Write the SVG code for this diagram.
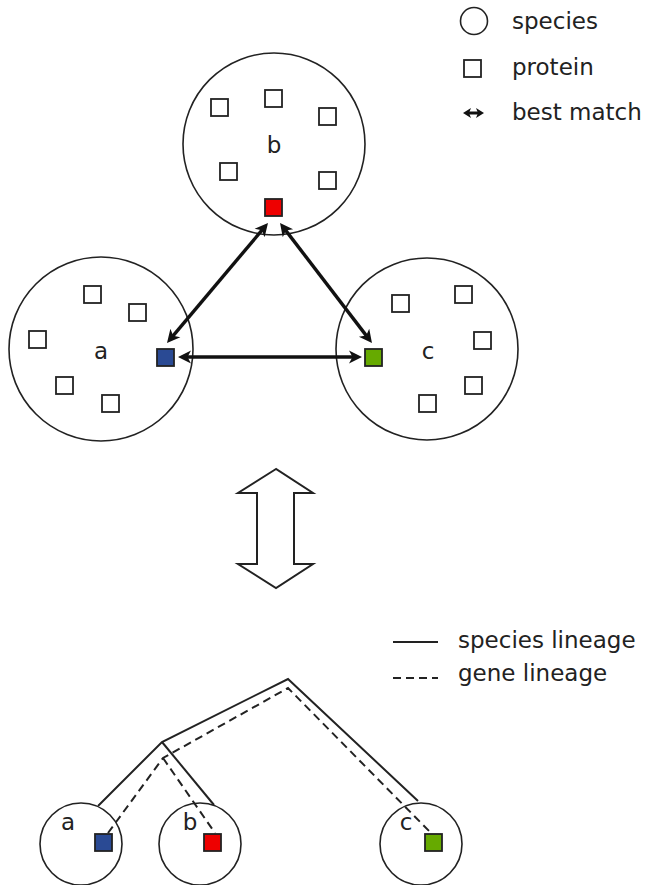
<svg xmlns="http://www.w3.org/2000/svg" width="650" height="885" viewBox="0 0 650 885">
<style>
text{font-family:"DejaVu Sans","Verdana",sans-serif;font-size:23px;fill:#222}
.sp{fill:#fff;stroke:#222;stroke-width:1.6}
.pr{fill:#fff;stroke:#222;stroke-width:1.8}
.bm{stroke:#111;stroke-width:3.4;fill:none;marker-start:url(#ah);marker-end:url(#ah)}
.sl{stroke:#222;stroke-width:2;fill:none}
.gl{stroke:#222;stroke-width:2;fill:none;stroke-dasharray:8,5}
.red{fill:#ee0000}.blue{fill:#2a4a94}.green{fill:#66aa00}
</style>
<defs>
<marker id="ah" markerUnits="userSpaceOnUse" markerWidth="18" markerHeight="16" viewBox="0 -8 18 16" refX="4" refY="0" orient="auto-start-reverse">
<path d="M0,-6.5 L13,0 L0,6.5 L3.5,0 Z" fill="#111"/>
</marker>
</defs>

<g id="legend-top">
<circle class="sp" cx="474" cy="21" r="13.5"/>
<text x="512" y="29">species</text>
<rect class="pr" x="464" y="60" width="17" height="17"/>
<text x="512" y="75">protein</text>
<path d="M467,113 H480" stroke="#111" stroke-width="3"/>
<path d="M463,113 L471,108 L469,113 L471,118 Z M484,113 L476,108 L478,113 L476,118 Z" fill="#111"/>
<text x="512" y="120">best match</text>
</g>

<g id="species-b">
<circle class="sp" cx="274" cy="144" r="91"/>
<rect class="pr" x="211" y="99" width="17" height="17"/>
<rect class="pr" x="265" y="90" width="17" height="17"/>
<rect class="pr" x="319" y="108" width="17" height="17"/>
<rect class="pr" x="220" y="163" width="17" height="17"/>
<rect class="pr" x="319" y="172" width="17" height="17"/>
<text x="274" y="153" text-anchor="middle">b</text>
<rect class="pr red" x="265" y="199" width="17" height="17"/>
</g>

<g id="species-a">
<circle class="sp" cx="101" cy="349" r="92"/>
<rect class="pr" x="84" y="286" width="17" height="17"/>
<rect class="pr" x="129" y="304" width="17" height="17"/>
<rect class="pr" x="29" y="331" width="17" height="17"/>
<rect class="pr" x="56" y="377" width="17" height="17"/>
<rect class="pr" x="102" y="395" width="17" height="17"/>
<text x="101" y="359" text-anchor="middle">a</text>
<rect class="pr blue" x="157" y="349" width="17" height="17"/>
</g>

<g id="species-c">
<circle class="sp" cx="427" cy="349" r="91"/>
<rect class="pr" x="392" y="295" width="17" height="17"/>
<rect class="pr" x="455" y="286" width="17" height="17"/>
<rect class="pr" x="474" y="332" width="17" height="17"/>
<rect class="pr" x="465" y="377" width="17" height="17"/>
<rect class="pr" x="419" y="395" width="17" height="17"/>
<text x="428" y="359" text-anchor="middle">c</text>
<rect class="pr green" x="365" y="349" width="17" height="17"/>
</g>

<g id="connectors">
<path class="bm" d="M262.2,229.9 L172.8,336.1"/>
<path class="bm" d="M285.5,230.1 L366.5,335.9"/>
<path class="bm" d="M187,357 L353,357"/>
</g>

<g id="equivalence">
<path d="M276,469 L238,493 L257,493 L257,564 L238,564 L276,588 L313,564 L294,564 L294,493 L313,493 Z" fill="#fff" stroke="#222" stroke-width="2"/>
</g>

<g id="legend-bottom">
<path class="sl" d="M393,642 H438"/>
<text x="458" y="648">species lineage</text>
<path class="gl" d="M393,678 H438"/>
<text x="458" y="681">gene lineage</text>
</g>

<g id="tree-connectors">
<path class="sl" d="M98,806 L162,742 L288,679 L418,801"/>
<path class="sl" d="M162,742 L214,805"/>
<path class="gl" d="M108,833 L163,758 L288,688 L432,834"/>
<path class="gl" d="M163,758 L215,833"/>
</g>

<g id="leaf-a">
<circle class="sp" cx="81" cy="844" r="41" style="fill:none"/>
<text x="68" y="830" text-anchor="middle">a</text>
<rect class="pr blue" x="95" y="834" width="17" height="17"/>
</g>
<g id="leaf-b">
<circle class="sp" cx="200" cy="844" r="41" style="fill:none"/>
<text x="190" y="830" text-anchor="middle">b</text>
<rect class="pr red" x="204" y="834" width="17" height="17"/>
</g>
<g id="leaf-c">
<circle class="sp" cx="421" cy="844" r="41" style="fill:none"/>
<text x="406" y="830" text-anchor="middle">c</text>
<rect class="pr green" x="425" y="834" width="17" height="17"/>
</g>
</svg>
